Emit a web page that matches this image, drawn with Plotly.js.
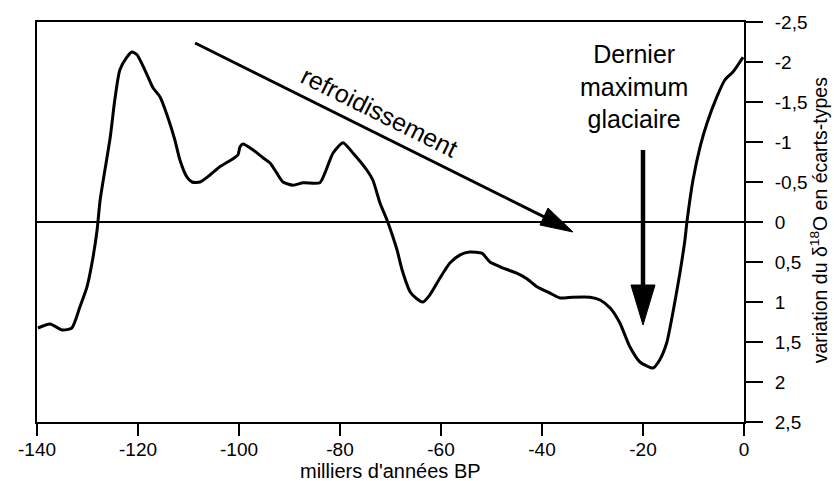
<!DOCTYPE html>
<html>
<head>
<meta charset="utf-8">
<script src="https://cdn.plot.ly/plotly-3.0.1.min.js"></script>
<style>html,body{margin:0;padding:0;background:#fff;}#chart{width:834px;height:481px;}</style>
</head>
<body>
<div id="chart"></div>
<script>
// Age (thousands of years BP) and delta18O variation (standard deviations)
const ages = [-139.8,-137.4,-135.0,-133.1,-131.5,-130.1,-129.1,-128.1,-127.5,-125.5,-124.6,-123.6,-122.2,-121.2,-120.2,-118.2,-117.0,-115.6,-114.1,-112.7,-111.7,-110.3,-109.3,-107.7,-105.7,-103.8,-101.2,-100.2,-99.8,-99.2,-97.2,-95.2,-93.9,-92.5,-91.3,-89.3,-87.3,-84.0,-83.0,-81.4,-79.4,-77.4,-74.7,-73.5,-72.1,-70.7,-69.5,-68.7,-67.7,-66.1,-64.8,-63.6,-62.2,-60.2,-58.2,-56.2,-54.3,-51.9,-50.3,-48.3,-45.0,-43.0,-41.0,-38.4,-36.4,-33.9,-30.5,-28.5,-26.5,-24.6,-22.6,-20.6,-18.0,-16.7,-15.3,-14.1,-12.7,-11.7,-11.3,-10.1,-8.7,-7.3,-5.4,-3.8,-2.2,-0.2];
const d18O = [1.325,1.275,1.35,1.325,1.06,0.81,0.51,0.10,-0.275,-1.06,-1.525,-1.9,-2.06,-2.125,-2.09,-1.84,-1.675,-1.56,-1.31,-1.025,-0.775,-0.56,-0.5,-0.5,-0.59,-0.69,-0.79,-0.84,-0.94,-0.975,-0.9,-0.8,-0.74,-0.61,-0.5,-0.46,-0.49,-0.49,-0.61,-0.86,-0.99,-0.86,-0.65,-0.525,-0.24,-0.025,0.19,0.35,0.6,0.875,0.96,1.0,0.91,0.7,0.51,0.41,0.375,0.39,0.5,0.56,0.64,0.71,0.81,0.89,0.95,0.94,0.94,0.975,1.075,1.26,1.56,1.75,1.825,1.725,1.51,1.14,0.64,0.225,0,-0.525,-0.94,-1.24,-1.56,-1.775,-1.875,-2.06];

const xTicks = [-140,-120,-100,-80,-60,-40,-20,0];
const xTickText = ['-140','-120','-100','-80','-60','-40','-20','0'];
const yTicks = [-2.5,-2,-1.5,-1,-0.5,0,0.5,1,1.5,2,2.5];
const yTickText = ['-2,5','-2','-1,5','-1','-0,5','0','0,5','1','1,5','2','2,5'];
const xTitle = "milliers d'années BP";
const yTitle = 'variation du δ<sup>18</sup>O en écarts-types';

// Annotation arrows (data coordinates): tail, head base corners, tip
const coolingArrow = {tail: [-108.7, -2.2375], lineEnd: [-38.8, -0.04], base1: [-38.81, -0.175], base2: [-40.40, 0.0375], tip: [-33.86, 0.125]};
const lgmArrow = {tail: [-20.0, -0.9], lineEnd: [-20.0, 0.85], base1: [-22.38, 0.7875], base2: [-17.62, 0.7875], tip: [-20.0, 1.2875]};

const FONT = 'Liberation Sans, Arial, sans-serif';

const trace = {
  x: ages, y: d18O, type: 'scatter', mode: 'lines',
  line: {color: '#000', width: 3, shape: 'spline', smoothing: 0.6},
  hoverinfo: 'skip'
};

function arrowShapes(a, w) {
  return [
    {type: 'line', xref: 'x', yref: 'y', x0: a.tail[0], y0: a.tail[1], x1: a.lineEnd[0], y1: a.lineEnd[1],
     line: {color: '#000', width: w}},
    {type: 'path', xref: 'x', yref: 'y',
     path: `M${a.base1[0]},${a.base1[1]} L${a.tip[0]},${a.tip[1]} L${a.base2[0]},${a.base2[1]} Z`,
     fillcolor: '#000', line: {color: '#000', width: 1}}
  ];
}

const layout = {
  width: 834, height: 481,
  margin: {l: 37, r: 90, t: 22, b: 59},
  paper_bgcolor: '#fff', plot_bgcolor: '#fff',
  showlegend: false,
  font: {family: FONT, color: '#000', size: 19},
  xaxis: {
    range: [-140, 0], tickvals: xTicks, ticktext: xTickText,
    showgrid: false, zeroline: false,
    showline: true, linecolor: '#000', linewidth: 2, mirror: true,
    ticks: 'outside', ticklen: 12, tickwidth: 2, tickcolor: '#000',
    ticklabelstandoff: -3,
    tickfont: {family: FONT, size: 19, color: '#000'}
  },
  yaxis: {
    range: [2.5, -2.5], side: 'right', tickvals: yTicks, ticktext: yTickText,
    showgrid: false,
    zeroline: true, zerolinecolor: '#000', zerolinewidth: 2,
    showline: true, linecolor: '#000', linewidth: 2, mirror: true,
    ticks: 'outside', ticklen: 17, tickwidth: 2, tickcolor: '#000',
    ticklabelstandoff: 8,
    tickfont: {family: FONT, size: 19, color: '#000'}
  },
  shapes: [].concat(arrowShapes(coolingArrow, 3), arrowShapes(lgmArrow, 4.5)),
  annotations: [
    {x: 0.5, y: -0.1225, xref: 'paper', yref: 'paper', xanchor: 'center', yanchor: 'middle',
     text: xTitle, showarrow: false, font: {family: FONT, size: 20, color: '#000'}},
    {x: 1.1065, y: 0.505, xref: 'paper', yref: 'paper', xanchor: 'center', yanchor: 'middle',
     text: yTitle, textangle: -90, showarrow: false, font: {family: FONT, size: 19.5, color: '#000'}},
    {x: -72.1, y: -1.375, xref: 'x', yref: 'y', text: 'refroidissement', showarrow: false,
     textangle: 26.5, font: {family: FONT, size: 25, color: '#000'}},
    {x: -21.8, y: -1.7, xref: 'x', yref: 'y', text: 'Dernier<br>maximum<br>glaciaire', showarrow: false,
     align: 'center', font: {family: FONT, size: 25, color: '#000'}}
  ]
};

Plotly.newPlot('chart', [trace], layout, {staticPlot: true, displayModeBar: false});
</script>
</body>
</html>
